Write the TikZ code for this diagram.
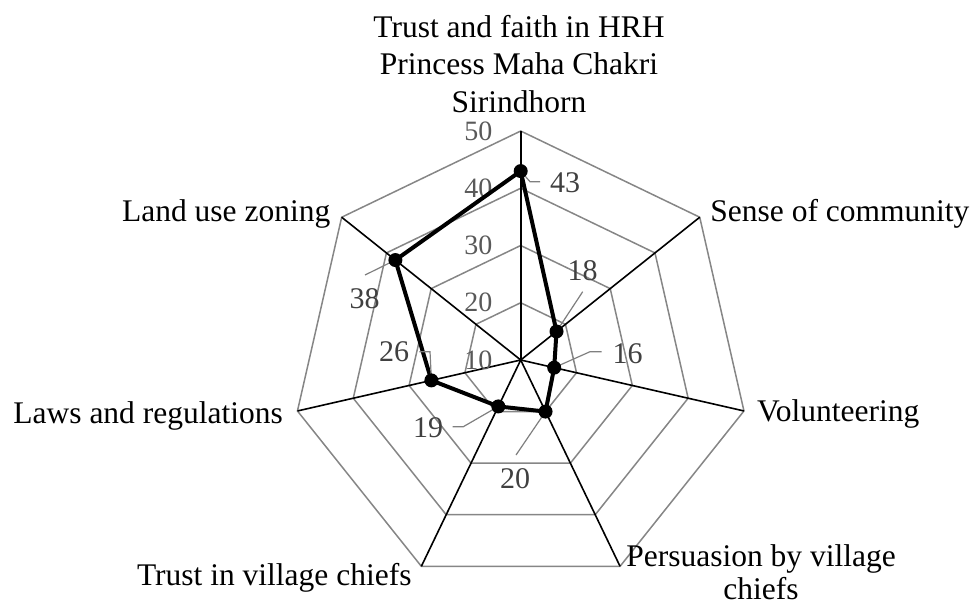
\documentclass[tikz,border=0pt]{standalone}
\usepackage{fontspec}
\setmainfont{Liberation Serif}
\usetikzlibrary{calc}
\definecolor{gridgray}{HTML}{868686}
\definecolor{ticktext}{HTML}{595959}
\definecolor{valtext}{HTML}{404040}
\definecolor{leadgray}{HTML}{7F7F7F}
\tikzset{
  ring/.style={draw=gridgray, line width=0.75pt},
  spoke/.style={draw=black, line width=0.8pt},
  series/.style={draw=black, line width=2pt, line join=round},
  dot/.style={circle, fill=black, inner sep=0pt, minimum size=7pt},
  catlabel/.style={inner sep=0pt, text=black, font=\fontsize{15.75}{18.75}\selectfont},
  ticklabel/.style={inner sep=0pt, text=ticktext, anchor=east, font=\fontsize{14}{16}\selectfont},
  vallabel/.style={inner sep=0pt, text=valtext, font=\fontsize{15}{17}\selectfont},
  leader/.style={draw=leadgray, line width=0.6pt},
}
\begin{document}
\begin{tikzpicture}[x=0.5pt, y=0.5pt]
\useasboundingbox (0,0) rectangle (973,-605);
\coordinate (C) at (520.7,-360);
% scale: 40 units (10..50) over 229 px
\def\unit{5.725}
% grid rings at 20, 30, 40, 50
\foreach \v in {20,30,40,50}{
  \pgfmathsetmacro{\r}{(\v-10)*\unit}
  \draw[ring] ($(C)+(90:\r)$)
    \foreach \k in {1,...,6}{ -- ($(C)+({90-\k*360/7}:\r)$) } -- cycle;
}
% spokes
\foreach \k in {0,...,6}{
  \coordinate (v\k) at ($(C)+({90-\k*360/7}:229)$);
  \draw[spoke] (C) -- (v\k);
}
% tick labels
\foreach \v in {10,20,30,40,50}{
  \pgfmathsetmacro{\r}{(\v-10)*\unit}
  \node[ticklabel] (t\v) at ($(C)+(-28,\r)$) {\v};
}
% data points
\foreach \k/\v in {0/43,1/18,2/16,3/20,4/19,5/26,6/38}{
  \pgfmathsetmacro{\r}{(\v-10)*\unit}
  \coordinate (p\k) at ($(C)+({90-\k*360/7}:\r)$);
}
\draw[series] (p0) -- (p1) -- (p2) -- (p3) -- (p4) -- (p5) -- (p6) -- cycle;
% value labels with leader lines
\node[vallabel] (l0) at (565,-183) {43};
\node[vallabel] (l1) at (582.5,-271) {18};
\node[vallabel] (l2) at (627.5,-354) {16};
\node[vallabel] (l3) at (515,-479) {20};
\node[vallabel] (l4) at (428,-428) {19};
\node[vallabel] (l5) at (394,-351.5) {26};
\node[vallabel] (l6) at (364.5,-298.5) {38};
\coordinate (e0) at (540,-181.7);
\coordinate (e1) at (582.7,-291.7);
\coordinate (e2) at (601.7,-351.7);
\coordinate (e3) at (516,-455);
\coordinate (e4) at (452.7,-426.7);
\coordinate (e5) at (419.3,-351.7);
\coordinate (e6) at (365,-275);
\draw[leader] (e0) -- (530,-181.7) -- (p0);
\draw[leader] (e1) -- (p1);
\draw[leader] (e2) -- (590,-351.7) -- (p2);
\draw[leader] (e3) -- (p3);
\draw[leader] (e4) -- (463.3,-426.7) -- (p4);
\draw[leader] (e5) -- (430,-351.7) -- (p5);
\draw[leader] (e6) -- (p6);
\foreach \k in {0,...,6}{ \node[dot] (d\k) at (p\k) {}; }
% category labels (multi-line ones are placed by their last baseline)
\node[catlabel, anchor=base, align=center] (c0) at (519,-112)
  {Trust and faith in HRH\\Princess Maha Chakri\\Sirindhorn};
\node[catlabel, anchor=base west] (c1) at (710,-221.7) {Sense of community};
\node[catlabel, anchor=base west] (c2) at (756.7,-421.7) {Volunteering};
\node[catlabel, anchor=base, align=center] (c3) at (761,-599.5) {Persuasion by village\\[-2.2pt]chiefs};
\node[catlabel, anchor=base west] (c4) at (136.7,-585) {Trust in village chiefs};
\node[catlabel, anchor=base west] (c5) at (13,-423.3) {Laws and regulations};
\node[catlabel, anchor=base west] (c6) at (121.7,-221.7) {Land use zoning};
\end{tikzpicture}
\end{document}
